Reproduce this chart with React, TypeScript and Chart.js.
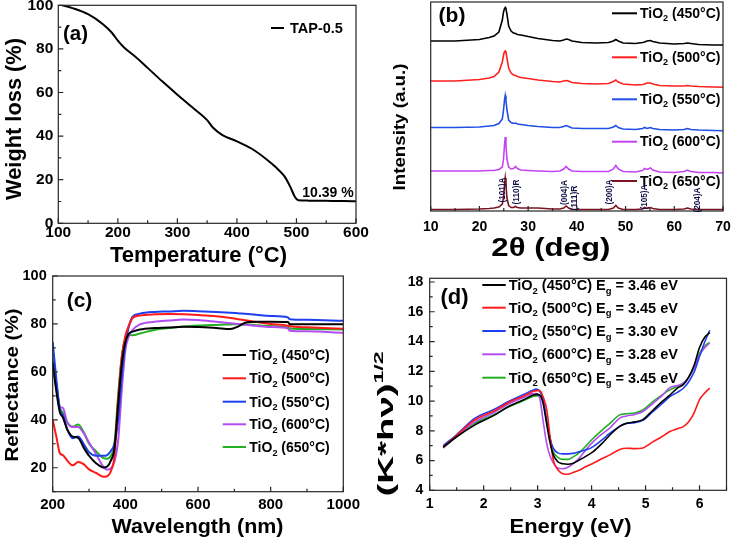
import React, { useEffect, useRef } from "react";
import { Chart, registerables } from "chart.js";
Chart.register(...registerables);

const OFF = 40;
const PAGE_W = 733;
const PAGE_H = 543;
const CW = PAGE_W + 2 * OFF;
const CH = PAGE_H + 2 * OFF;
const FONT = '"Liberation Sans", Arial, Helvetica, sans-serif';

// ---------- (a) TGA ----------
const tgaTemp = [100, 125, 150, 175, 190, 200, 210, 230, 250, 275, 300, 325, 350, 360, 375, 400, 425, 450, 465, 480, 490, 497, 503, 520, 550, 580, 600];
const tgaWeight = [100.5, 98.6, 95.9, 91.3, 87.4, 83.8, 80.8, 76.3, 71.3, 65, 59, 53.2, 47.3, 43.8, 40.6, 37.6, 34.2, 29.3, 25.8, 21.5, 16.5, 12.3, 10.6, 10.4, 10.3, 10.2, 10.1];

// ---------- (b) XRD ----------
const xrdTheta = [10, 15, 20, 22, 23, 24, 24.7, 24.95, 25.15, 25.3, 25.45, 25.65, 26, 26.5, 27, 27.4, 27.8, 28.5, 30, 32, 35, 36.5, 37.3, 37.8, 38.3, 39, 41, 44, 46.5, 47.5, 48, 48.5, 49.5, 52, 53.5, 53.9, 54.4, 55.1, 55.6, 57, 60, 62, 62.7, 63.4, 65, 68, 70];
const xrd450 = [170, 170, 171.5, 173.5, 175, 179, 191, 199, 202.5, 203.5, 202, 197, 185, 180, 178, 177.5, 176.5, 176, 174.5, 172.5, 170.5, 170, 171, 172, 171.5, 170, 168.5, 168, 168.5, 170, 171.5, 170, 168, 167.5, 168.5, 169, 170, 170.5, 169.5, 168, 167, 167.5, 168, 167.5, 166.5, 166, 166];
const xrd500 = [130, 130, 131.5, 133, 134.5, 139, 149, 156, 159.5, 160, 158.5, 153, 143, 138, 136, 135.5, 134.5, 133.5, 132.5, 131, 129.5, 129, 130, 130.5, 130, 128.5, 127.5, 127, 127.5, 129.5, 131, 129, 127, 126, 126.5, 127, 128, 128, 127, 125.5, 125, 125, 125.5, 125, 124.5, 124, 123.7];
const xrd550 = [83.5, 83.5, 84, 85, 85.5, 87.5, 92, 101, 111, 115.5, 111, 101, 91, 88.5, 87.5, 88, 87, 86.5, 85.5, 84.5, 83.5, 83.5, 84.5, 85.5, 84.5, 83, 82.5, 82.5, 82.5, 84, 85.5, 83.5, 82, 81.5, 82.5, 83.5, 82.5, 83.5, 82.5, 81.5, 81, 81.5, 82.5, 81.5, 81, 80.5, 80.3];
const xrd600 = [40, 40, 40, 40.5, 40.5, 41.5, 44, 52, 66, 74, 66, 52, 44, 42, 42.5, 44.5, 42.5, 41, 40.5, 40, 39.5, 40, 42, 44.5, 42, 40, 39.5, 39.5, 39.5, 42, 45.5, 42, 39.5, 39, 40.5, 42.5, 41.5, 43, 41, 39, 38.5, 39.5, 41, 39.5, 38.5, 38.5, 38];
const xrd650 = [1.5, 1.5, 2, 2.5, 3, 4, 7, 14, 26, 33, 26, 13, 5.5, 3.5, 3.5, 4.5, 3.5, 3, 3, 3, 2, 2, 3, 5, 3, 1.5, 1.5, 1.5, 1.5, 3, 5.5, 3, 1.5, 1.5, 2, 3.5, 2.5, 3.5, 2.5, 1.5, 1.5, 2, 3, 2, 1.5, 1.5, 1.5];
const peakNames = ["(101)A", "(110)R", "(004)A", "(111)R", "(200)A", "(105)A", "(204)A"];
const peakTheta = [24.5, 27.5, 37.3, 39.3, 46.5, 53.6, 64.5];
const peakLabelY = [21, 19, 18.5, 13, 19, 14, 11];

// ---------- (c) DRS ----------
const drsWavelength = [200, 210, 220, 228, 240, 255, 270, 285, 300, 320, 340, 350, 360, 370, 380, 390, 400, 410, 420, 440, 480, 520, 560, 600, 650, 690, 710, 730, 760, 800, 848, 852, 900, 1000];
const drs450 = [64, 52, 43, 41, 36, 33, 32.5, 28.5, 25, 21.8, 20.1, 20.5, 23, 28, 46, 63, 72.5, 76, 76.8, 77.7, 78.3, 78.5, 78.8, 78.7, 78.3, 77.9, 78.9, 80.5, 80.9, 80.9, 80.8, 79.9, 79.9, 79.9];
const drs500 = [40, 33, 26, 25.3, 23, 21, 22.4, 21.5, 19.3, 17.8, 16.2, 16.5, 18.5, 25, 48, 66, 75, 79.5, 82.5, 83.5, 84, 84.1, 84, 83.7, 83.2, 82.5, 82, 81.5, 80.8, 80, 79.2, 79, 78.6, 78];
const drs550 = [72.5, 57, 44, 42, 36, 32.3, 33, 30, 26.5, 25, 25, 25.3, 27, 30, 40, 58, 72, 79, 83, 84.3, 85, 85.2, 85.5, 85.3, 85, 84.7, 84.5, 84.2, 83.8, 83.3, 82.7, 82, 81.7, 81.3];
const drs600 = [63, 53, 45.3, 45, 39, 37, 37, 34.5, 30.5, 25.5, 20.3, 19.2, 19.8, 22.5, 31, 52, 69, 75, 77.5, 79.8, 80.9, 81.4, 81.8, 81.6, 80.9, 80.3, 80, 79.7, 79.2, 78.7, 78.1, 77.2, 76.9, 76.3];
const drs650 = [66, 55, 45, 43, 39, 37.2, 38, 35, 30, 26.8, 24, 23.8, 25, 30, 50, 66.3, 74, 75.5, 75.3, 76, 77.5, 78.3, 78.9, 79.3, 79.6, 79.8, 79.9, 79.9, 79.5, 79.1, 78.5, 78.1, 77.9, 77.7];

// ---------- (d) Tauc ----------
const taucEnergy = [1.25, 1.5, 1.84, 2.2, 2.46, 2.75, 2.92, 2.98, 3.04, 3.1, 3.17, 3.23, 3.29, 3.38, 3.47, 3.56, 3.66, 3.78, 3.9, 4.03, 4.18, 4.34, 4.52, 4.65, 4.8, 4.95, 5.14, 5.3, 5.45, 5.6, 5.7, 5.8, 5.9, 6.0, 6.1, 6.19];
const tauc450 = [6.9, 7.6, 8.4, 9.05, 9.63, 10.1, 10.4, 10.45, 10.4, 9.86, 8.4, 7.2, 6.38, 5.9, 5.78, 5.75, 5.82, 6.05, 6.3, 6.6, 7.1, 7.72, 8.3, 8.5, 8.6, 8.75, 9.4, 9.95, 10.4, 10.9, 11.1, 11.6, 12.4, 13.6, 14.3, 14.6];
const tauc500 = [6.9, 7.7, 8.74, 9.35, 9.9, 10.35, 10.65, 10.7, 10.7, 10.3, 9.4, 7.6, 6.04, 5.37, 5.12, 5.08, 5.2, 5.37, 5.6, 5.82, 6.1, 6.38, 6.75, 6.83, 6.8, 6.85, 7.27, 7.6, 7.95, 8.15, 8.28, 8.6, 9.2, 10.1, 10.55, 10.87];
const tauc550 = [7.0, 7.75, 8.85, 9.45, 9.97, 10.45, 10.75, 10.8, 10.65, 10.1, 8.7, 7.5, 6.83, 6.5, 6.45, 6.45, 6.48, 6.6, 6.72, 6.94, 7.35, 7.84, 8.3, 8.5, 8.55, 8.7, 9.3, 9.8, 10.3, 10.6, 10.86, 11.3, 11.95, 13.0, 14.0, 14.75];
const tauc600 = [6.85, 7.65, 8.6, 9.25, 9.8, 10.25, 10.5, 10.5, 10.2, 8.7, 7.1, 6.3, 5.85, 5.48, 5.45, 5.55, 5.8, 6.2, 6.75, 7.27, 7.75, 8.2, 8.85, 9.0, 9.1, 9.3, 9.85, 10.35, 10.9, 11.05, 11.2, 11.6, 12.25, 13.1, 13.6, 13.9];
const tauc650 = [6.85, 7.6, 8.5, 9.1, 9.6, 10.05, 10.33, 10.35, 10.35, 10.0, 8.6, 7.5, 6.6, 6.2, 6.08, 6.08, 6.25, 6.55, 7.0, 7.5, 8.0, 8.5, 9.07, 9.15, 9.2, 9.4, 9.97, 10.4, 10.75, 11.0, 11.2, 11.6, 12.25, 13.2, 13.7, 13.94];

const sampleTemps = ["450", "500", "550", "600", "650"];
const bandGaps = ["3.46", "3.45", "3.30", "3.28", "3.45"];
const tgaSample = "TAP-0.5";
const residue = "10.39 %";

const colorsB = ["#000000", "#ff1f1f", "#1f4fe6", "#c444f2", "#7a1422"];
const colorsCD = ["#000000", "#ff1a1a", "#1f3ff0", "#b04ef0", "#22b022"];

type Part = { t: string; s?: "sub" | "sup" };
const tiO2 = (temp: string): Part[] => [{ t: "TiO" }, { t: "2", s: "sub" }, { t: ` (${temp}°C)` }];

function drawRich(ctx: CanvasRenderingContext2D, parts: Part[], x: number, y: number, size: number,
  o: { rot?: number; align?: "left" | "center"; target?: number; color?: string; smallScale?: number } = {}) {
  ctx.save();
  const ss = o.smallScale ?? 0.65;
  const main = `bold ${size}px ${FONT}`;
  const small = `bold ${size * ss}px ${FONT}`;
  let total = 0;
  const widths = parts.map((p) => {
    ctx.font = p.s ? small : main;
    const w = ctx.measureText(p.t).width;
    total += w;
    return w;
  });
  const sx = o.target ? o.target / total : 1;
  ctx.translate(x, y);
  if (o.rot) ctx.rotate(o.rot);
  ctx.scale(sx, 1);
  let cx = o.align === "center" ? -total / 2 : 0;
  ctx.fillStyle = o.color || "#000";
  ctx.textBaseline = "alphabetic";
  ctx.textAlign = "left";
  parts.forEach((p, i) => {
    ctx.font = p.s ? small : main;
    const dy = p.s === "sub" ? size * 0.25 : p.s === "sup" ? -size * 0.45 : 0;
    ctx.fillText(p.t, cx, dy);
    cx += widths[i];
  });
  ctx.restore();
}

function legendLine(ctx: CanvasRenderingContext2D, x1: number, x2: number, y: number, color: string) {
  ctx.save();
  ctx.strokeStyle = color;
  ctx.lineWidth = 2;
  ctx.beginPath();
  ctx.moveTo(x1, y);
  ctx.lineTo(x2, y);
  ctx.stroke();
  ctx.restore();
}

function frameTicks(chart: any, t: number[]) {
  const [xMajor, xMinor, yMajor, yMinor] = t;
  const { ctx, chartArea: a } = chart;
  const xs = chart.scales.x;
  const ys = chart.scales.y;
  ctx.save();
  ctx.strokeStyle = "#262626";
  ctx.lineWidth = 1.2;
  ctx.strokeRect(a.left, a.top, a.right - a.left, a.bottom - a.top);
  ctx.beginPath();
  if (xMinor > 0) {
    for (let n = Math.ceil(xs.min / xMinor - 1e-9); n * xMinor <= xs.max + 1e-9; n++) {
      const v = n * xMinor;
      const r = v / xMajor;
      const major = Math.abs(r - Math.round(r)) < 1e-6;
      const p = xs.getPixelForValue(v);
      ctx.moveTo(p, a.bottom);
      ctx.lineTo(p, a.bottom - (major ? 5 : 3));
    }
  }
  if (yMinor > 0) {
    for (let n = Math.ceil(ys.min / yMinor - 1e-9); n * yMinor <= ys.max + 1e-9; n++) {
      const v = n * yMinor;
      const r = v / yMajor;
      const major = Math.abs(r - Math.round(r)) < 1e-6;
      const p = ys.getPixelForValue(v);
      ctx.moveTo(a.left, p);
      ctx.lineTo(a.left + (major ? 5 : 3), p);
    }
  }
  ctx.stroke();
  ctx.restore();
}

function overlay(name: string, ticks: number[], draw: (ctx: CanvasRenderingContext2D, chart: any) => void) {
  return {
    id: "overlay_" + name,
    afterDraw(chart: any) {
      frameTicks(chart, ticks);
      const ctx = chart.ctx as CanvasRenderingContext2D;
      ctx.save();
      ctx.translate(OFF, OFF);
      draw(ctx, chart);
      ctx.restore();
    },
  };
}

type Area = { L: number; T: number; R: number; B: number };
const Y_W = 45;
const X_H = 35;

function scale(o: { min: number; max: number; step?: number; size: number; pad: number; show: boolean; horiz: boolean }) {
  return {
    type: "linear",
    min: o.min,
    max: o.max,
    grid: { display: false, drawTicks: false },
    border: { display: false },
    ticks: {
      display: o.show,
      stepSize: o.step,
      includeBounds: false,
      padding: o.pad,
      color: "#000",
      autoSkip: false,
      maxRotation: 0,
      font: { family: FONT, size: o.size, weight: "bold" },
      callback: (v: any) => String(v),
    },
    afterFit: (s: any) => {
      if (o.horiz) s.height = X_H;
      else s.width = Y_W;
    },
  };
}

function baseOptions(area: Area, x: any, y: any) {
  return {
    responsive: false,
    animation: false,
    devicePixelRatio: 1,
    layout: {
      padding: {
        left: area.L + OFF - Y_W,
        top: area.T + OFF,
        right: CW - (area.R + OFF),
        bottom: CH - (area.B + OFF) - X_H,
      },
    },
    plugins: { legend: { display: false }, tooltip: { enabled: false } },
    scales: { x, y },
  };
}

function series(xv: number[], yv: number[], color: string, width: number, smooth: boolean) {
  return {
    data: xv.map((x, i) => ({ x, y: yv[i] })),
    borderColor: color,
    backgroundColor: color,
    borderWidth: width,
    pointRadius: 0,
    fill: false,
    tension: 0,
    cubicInterpolationMode: smooth ? "monotone" : "default",
  };
}

function makeA() {
  const area = { L: 58.3, T: 5.3, R: 356, B: 223.3 };
  return {
    type: "line",
    data: { datasets: [series(tgaTemp, tgaWeight, "#000", 2, true)] },
    options: baseOptions(
      area,
      scale({ min: 100, max: 600, step: 100, size: 15.5, pad: 0, show: true, horiz: true }),
      scale({ min: 0, max: 100, step: 20, size: 15.5, pad: 5, show: true, horiz: false })
    ),
    plugins: [
      overlay("a", [100, 50, 20, 10], (ctx) => {
        drawRich(ctx, [{ t: "Weight loss (%)" }], 21, 119, 22, { rot: -Math.PI / 2, align: "center", target: 162 });
        drawRich(ctx, [{ t: "Temperature (°C)" }], 198.5, 262, 22, { align: "center", target: 177 });
        drawRich(ctx, [{ t: "(a)" }], 75.5, 40, 20.5, { align: "center" });
        legendLine(ctx, 271, 284, 28, "#000");
        drawRich(ctx, [{ t: tgaSample }], 290, 33, 14.5);
        drawRich(ctx, [{ t: residue }], 328, 196.5, 14, { align: "center" });
      }),
    ],
  };
}

function makeB() {
  const area = { L: 430.7, T: 2, R: 723, B: 211 };
  const sets = [xrd450, xrd500, xrd550, xrd600, xrd650];
  const lineYs = [13.3, 57.3, 99.3, 141.7, 181];
  return {
    type: "line",
    data: { datasets: sets.map((s, i) => series(xrdTheta, s, colorsB[i], 1.6, false)) },
    options: baseOptions(
      area,
      scale({ min: 10, max: 70, step: 10, size: 14, pad: 8, show: true, horiz: true }),
      scale({ min: 0, max: 209, size: 14, pad: 4, show: false, horiz: false })
    ),
    plugins: [
      overlay("b", [10, 5, 0, 0], (ctx, chart) => {
        drawRich(ctx, [{ t: "Intensity (a.u.)" }], 405, 127, 16, { rot: -Math.PI / 2, align: "center", target: 127 });
        drawRich(ctx, [{ t: "2θ (deg)" }], 550.8, 256, 26, { align: "center", target: 119 });
        drawRich(ctx, [{ t: "(b)" }], 452, 22, 21, { align: "center" });
        sampleTemps.forEach((tp, i) => {
          legendLine(ctx, 612, 637, lineYs[i], colorsB[i]);
          drawRich(ctx, tiO2(tp), 640, lineYs[i] + 4.5, 14);
        });
        const xs = chart.scales.x;
        const ys = chart.scales.y;
        peakNames.forEach((nm, i) => {
          const px = xs.getPixelForValue(peakTheta[i]) - OFF;
          const py = ys.getPixelForValue(peakLabelY[i]) - OFF;
          drawRich(ctx, [{ t: nm }], px + 3.5, py, 9.5, { rot: -Math.PI / 2, align: "center", color: "#12124a", target: 25 });
        });
      }),
    ],
  };
}

function makeC() {
  const area = { L: 52.7, T: 276, R: 343.3, B: 491.7 };
  const sets = [drs450, drs500, drs550, drs600, drs650];
  const lineYs = [355, 378.3, 401.7, 424.3, 447];
  return {
    type: "line",
    data: { datasets: sets.map((s, i) => series(drsWavelength, s, colorsCD[i], 2, true)) },
    options: baseOptions(
      area,
      scale({ min: 200, max: 1000, step: 200, size: 15, pad: 4.3, show: true, horiz: true }),
      scale({ min: 10, max: 100, step: 20, size: 14.5, pad: 6, show: true, horiz: false })
    ),
    plugins: [
      overlay("c", [200, 100, 20, 10], (ctx) => {
        drawRich(ctx, [{ t: "Reflectance (%)" }], 17.5, 385, 19, { rot: -Math.PI / 2, align: "center", target: 153 });
        drawRich(ctx, [{ t: "Wavelength (nm)" }], 197.5, 533, 20, { align: "center", target: 172 });
        drawRich(ctx, [{ t: "(c)" }], 79.5, 307, 21, { align: "center" });
        sampleTemps.forEach((tp, i) => {
          legendLine(ctx, 222.7, 246, lineYs[i], colorsCD[i]);
          drawRich(ctx, tiO2(tp), 249.3, lineYs[i] + 5, 14);
        });
      }),
    ],
  };
}

function makeD() {
  const area = { L: 429.7, T: 278.3, R: 726.5, B: 490.3 };
  const sets = [tauc450, tauc500, tauc550, tauc600, tauc650];
  const lineYs = [285, 307.7, 331, 354.3, 377.7];
  return {
    type: "line",
    data: { datasets: sets.map((s, i) => series(taucEnergy, s, colorsCD[i], 1.6, true)) },
    options: baseOptions(
      area,
      scale({ min: 1, max: 6.5, step: 1, size: 14, pad: 5.6, show: true, horiz: true }),
      scale({ min: 4, max: 18.25, step: 2, size: 14, pad: 6.5, show: true, horiz: false })
    ),
    plugins: [
      overlay("d", [1, 0.5, 2, 1], (ctx) => {
        drawRich(ctx, [{ t: "(K*hν)" }, { t: "1/2", s: "sup" }], 393, 424, 22, { rot: -Math.PI / 2, align: "center", target: 145, smallScale: 0.6 });
        drawRich(ctx, [{ t: "Energy (eV)" }], 570.5, 533, 21, { align: "center", target: 122 });
        drawRich(ctx, [{ t: "(d)" }], 454.5, 304, 22, { align: "center" });
        sampleTemps.forEach((tp, i) => {
          legendLine(ctx, 482.3, 505.7, lineYs[i], colorsCD[i]);
          const parts: Part[] = [...tiO2(tp), { t: " E" }, { t: "g", s: "sub" }, { t: ` = ${bandGaps[i]} eV` }];
          drawRich(ctx, parts, 508.7, lineYs[i] + 5, 14.5);
        });
      }),
    ],
  };
}

function ChartCanvas({ make }: { make: () => any }) {
  const ref = useRef<HTMLCanvasElement>(null);
  useEffect(() => {
    const c = new Chart(ref.current as HTMLCanvasElement, make());
    return () => c.destroy();
  }, []);
  return (
    <canvas
      ref={ref}
      width={CW}
      height={CH}
      style={{ position: "absolute", left: -OFF, top: -OFF, width: CW, height: CH }}
    />
  );
}

export default function App() {
  return (
    <div style={{ position: "fixed", left: 0, top: 0, width: PAGE_W, height: PAGE_H, overflow: "hidden", background: "#fff" }}>
      <ChartCanvas make={makeA} />
      <ChartCanvas make={makeB} />
      <ChartCanvas make={makeC} />
      <ChartCanvas make={makeD} />
    </div>
  );
}
